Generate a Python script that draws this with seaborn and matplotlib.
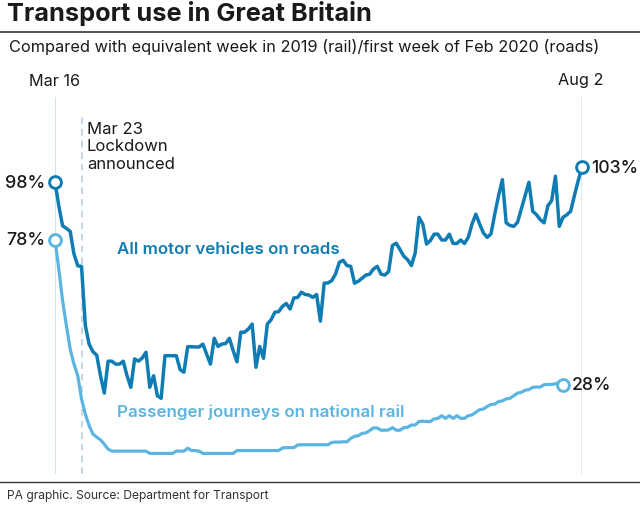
import matplotlib
matplotlib.use("Agg")
import matplotlib.pyplot as plt
import pandas as pd
import seaborn as sns

dates = pd.date_range("2020-03-16", "2020-08-02")

road_use = [
    98, 89.8, 82.9, 82.0, 81.0, 73.2, 69.1, 68.9, 48.5, 42.1,
    39.5, 38.3, 31.2, 25.2, 36.2, 36.2, 35.2, 35.2, 36.2, 31.2,
    27.2, 37.0, 36.2, 37.3, 39.3, 27.2, 31.2, 24.3, 23.4, 38.1,
    38.1, 38.1, 38.1, 33.3, 32.4, 41.2, 41.2, 41.1, 41.1, 42.1,
    38.7, 35.2, 44.1, 41.3, 42.1, 42.3, 44.1, 39.8, 36.0, 46.2,
    46.2, 47.3, 49.0, 34.1, 41.3, 37.2, 49.0, 50.5, 53.1, 53.3,
    55.1, 56.1, 54.2, 58.0, 58.2, 60.0, 59.2, 59.0, 58.2, 59.2,
    50.0, 63.1, 63.2, 64.0, 66.3, 70.3, 71.0, 69.2, 68.9, 63.1,
    63.8, 64.8, 65.9, 66.2, 68.0, 68.9, 66.2, 65.9, 67.1, 76.1,
    76.9, 74.7, 72.4, 71.2, 69.2, 73.5, 85.8, 83.5, 76.6, 77.8,
    80.0, 80.0, 78.0, 78.0, 80.0, 76.8, 76.8, 78.0, 76.8, 78.9,
    83.5, 86.9, 83.5, 80.4, 78.9, 80.1, 87.0, 93.3, 98.8, 83.9,
    83.0, 82.7, 84.1, 88.7, 93.3, 97.9, 87.9, 86.7, 85.0, 83.9,
    89.8, 91.6, 100.0, 82.7, 85.8, 86.7, 87.9, 93.3, 98.5, 103,
]

# rail figures stop a few days before the roads series
rail_use = [
    78, 68.0, 57.1, 48.5, 40.4, 35.2, 31.2, 23.2, 18.0, 14.0,
    11.1, 10.0, 9.1, 7.6, 5.9, 5.2, 5.2, 5.2, 5.2, 5.2,
    5.2, 5.2, 5.2, 5.2, 5.2, 4.4, 4.4, 4.4, 4.4, 4.4,
    4.4, 4.4, 5.2, 5.2, 5.2, 6.2, 5.4, 5.4, 5.2, 4.4,
    4.4, 4.4, 4.4, 4.4, 4.4, 4.4, 4.4, 4.4, 5.4, 5.4,
    5.4, 5.4, 5.4, 5.4, 5.4, 5.4, 5.4, 5.4, 5.4, 5.4,
    6.3, 6.4, 6.4, 6.4, 7.3, 7.4, 7.4, 7.4, 7.4, 7.4,
    7.4, 7.4, 7.4, 8.2, 8.3, 8.3, 8.4, 8.4, 9.6, 10.3,
    10.5, 11.3, 11.5, 12.3, 13.2, 13.2, 12.4, 12.4, 12.5, 13.3,
    12.4, 12.4, 13.3, 13.4, 14.2, 14.2, 15.4, 15.5, 15.4, 15.4,
    16.3, 16.5, 17.4, 16.5, 17.4, 16.5, 17.4, 16.5, 16.5, 17.4,
    17.7, 18.6, 19.5, 19.7, 20.6, 21.3, 21.4, 22.3, 22.5, 23.2,
    23.4, 24.3, 25.2, 25.5, 26.2, 26.4, 27.2, 27.3, 27.3, 28.1,
    28.2, 28.2, 28.4, 28.9, 28,
]

road_colour = "#0f7db4"
rail_colour = "#5bb5e0"
guide_colour = "#d9e8f4"
text_colour = "#1a1a1a"

sns.set_theme(style="white")
plt.rcParams["font.family"] = ["Inter", "DejaVu Sans"]

fig = plt.figure(figsize=(6.4, 5.1), dpi=100)
# plot area in pixels: x 55-582, y 98-475
ax = fig.add_axes([55 / 640, 1 - 475 / 510, 527 / 640, 377 / 510])
ax.set_axis_off()

ax.axvline(dates[0], color="#bcdcf0", lw=1.1, zorder=1)
ax.axvline(dates[-1], color=guide_colour, lw=1.3, zorder=1)
ax.plot([pd.Timestamp("2020-03-23")] * 2, [-2.7, 120.5], color="#b9cfe4", lw=1.2, ls=(0, (4, 3)), zorder=1)

sns.lineplot(x=dates[:len(rail_use)], y=rail_use, ax=ax, color=rail_colour, lw=2.3, zorder=3, clip_on=False)
sns.lineplot(x=dates, y=road_use, ax=ax, color=road_colour, lw=2.5, zorder=4, clip_on=False)

ax.plot(dates[[0, -1]], [road_use[0], road_use[-1]], ls="", marker="o", ms=8.5, mfc="white", mec=road_colour, mew=2.1, zorder=5, clip_on=False)
ax.plot(dates[[0, len(rail_use) - 1]], [rail_use[0], rail_use[-1]], ls="", marker="o", ms=8.5, mfc="white", mec=rail_colour, mew=2.1, zorder=5, clip_on=False)

ax.set_xlim(dates[0], dates[-1])
ax.set_ylim(-2.69, 127.3)

fig.text(7 / 640, 1 - 13 / 510, "Transport use in Great Britain", fontsize=18.25, fontweight="bold", color=text_colour, va="center")
fig.add_artist(plt.Line2D([0, 1], [1 - 33 / 510] * 2, color="#333333", lw=1.2))
fig.text(9 / 640, 1 - 47 / 510, "Compared with equivalent week in 2019 (rail)/first week of Feb 2020 (roads)", fontsize=11.75, color=text_colour, va="center")

fig.text(55 / 640, 1 - 81 / 510, "Mar 16", fontsize=11.7, color=text_colour, ha="center", va="center")
fig.text(581 / 640, 1 - 81 / 510, "Aug 2", fontsize=11.7, color=text_colour, ha="center", va="center")
fig.text(87 / 640, 1 - 147 / 510, "Mar 23\nLockdown\nannounced", fontsize=12, color=text_colour, va="center", linespacing=1.22)

fig.text(45 / 640, 1 - 183 / 510, "98%", fontsize=12.9, fontweight="medium", color=text_colour, ha="right", va="center")
fig.text(45 / 640, 1 - 241 / 510, "78%", fontsize=12.9, fontweight="medium", color=text_colour, ha="right", va="center")
fig.text(591 / 640, 1 - 169 / 510, "103%", fontsize=12.7, fontweight="medium", color=text_colour, va="center")
fig.text(572 / 640, 1 - 386 / 510, "28%", fontsize=12.7, fontweight="medium", color=text_colour, va="center")

fig.text(117 / 640, 1 - 250 / 510, "All motor vehicles on roads", fontsize=12.2, fontweight="semibold", color=road_colour, va="center")
fig.text(117 / 640, 1 - 412 / 510, "Passenger journeys on national rail", fontsize=12.2, fontweight="semibold", color=rail_colour, va="center")

fig.add_artist(plt.Line2D([0, 1], [1 - 483 / 510] * 2, color="#333333", lw=1.0))
fig.text(7 / 640, 1 - 496 / 510, "PA graphic. Source: Department for Transport", fontsize=8.7, color="#333333", va="center")

fig.savefig("out.png", dpi=100)
